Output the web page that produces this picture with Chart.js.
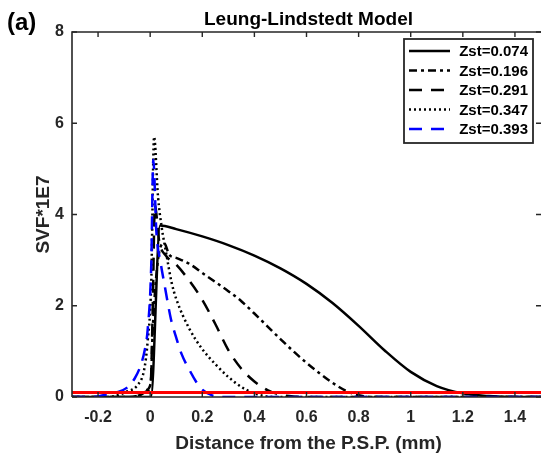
<!DOCTYPE html>
<html>
<head>
<meta charset="utf-8">
<script src="https://cdn.jsdelivr.net/npm/chart.js@4.4.1/dist/chart.umd.min.js"></script>
<style>
  html, body { margin: 0; padding: 0; background: #fff; overflow: hidden; }
  #wrap { width: 541px; height: 457px; position: relative; }
</style>
</head>
<body>
<div id="wrap"><canvas id="chart"></canvas></div>
<script>
const xTicks = [-0.2, 0, 0.2, 0.4, 0.6, 0.8, 1, 1.2, 1.4];
const yTicks = [0, 2, 4, 6, 8];
const seriesLabels = ['Zst=0.074', 'Zst=0.196', 'Zst=0.291', 'Zst=0.347', 'Zst=0.393'];

// Zst=0.074 (solid)
const x074 = [-0.3, 0.003, 0.038, 0.1, 0.2, 0.3, 0.4, 0.5, 0.6, 0.7, 0.8, 0.9, 1.0, 1.1, 1.2, 1.3, 1.4, 1.5];
const y074 = [0, 0, 3.76, 3.68, 3.52, 3.33, 3.1, 2.82, 2.48, 2.06, 1.56, 1.02, 0.55, 0.24, 0.08, 0.02, 0, 0];
// Zst=0.196 (dash-dot)
const x196 = [-0.3, -0.08, -0.04, -0.015, 0.002, 0.01, 0.03, 0.054, 0.073, 0.1, 0.15, 0.2, 0.25, 0.3, 0.35, 0.4, 0.45, 0.5, 0.55, 0.6, 0.65, 0.7, 0.75, 0.8, 0.85, 1.5];
const y196 = [0, 0, 0.05, 0.15, 0.3, 1.5, 3.0, 3.37, 3.12, 3.05, 2.92, 2.72, 2.52, 2.32, 2.1, 1.83, 1.55, 1.27, 1.0, 0.75, 0.52, 0.31, 0.14, 0.04, 0, 0];
// Zst=0.291 (dashed)
const x291 = [-0.3, -0.08, -0.04, -0.015, 0.002, 0.01, 0.018, 0.035, 0.06, 0.1, 0.15, 0.2, 0.25, 0.3, 0.35, 0.4, 0.45, 0.5, 0.55, 0.6, 1.5];
const y291 = [0, 0, 0.04, 0.12, 0.3, 2.0, 4.2, 3.4, 3.1, 2.9, 2.55, 2.13, 1.6, 1.03, 0.62, 0.34, 0.15, 0.05, 0.01, 0, 0];
// Zst=0.347 (dotted)
const x347 = [-0.3, -0.16, -0.12, -0.09, -0.05, -0.023, -0.01, 0.004, 0.015, 0.03, 0.044, 0.06, 0.083, 0.1, 0.15, 0.2, 0.25, 0.3, 0.35, 0.4, 0.45, 0.5, 1.5];
const y347 = [0, 0, 0.05, 0.12, 0.25, 0.6, 1.2, 2.49, 5.7, 4.4, 3.73, 3.2, 2.49, 2.15, 1.5, 1.05, 0.72, 0.44, 0.22, 0.08, 0.01, 0, 0];
// Zst=0.393 (blue dashed)
const x393 = [-0.3, -0.22, -0.18, -0.13, -0.09, -0.06, -0.036, -0.02, -0.01, 0.004, 0.012, 0.024, 0.04, 0.057, 0.08, 0.1, 0.12, 0.15, 0.177, 0.2, 0.24, 0.28, 1.5];
const y393 = [0, 0, 0.04, 0.1, 0.2, 0.4, 0.7, 1.05, 1.45, 2.86, 5.2, 3.6, 2.95, 2.4, 1.7, 1.3, 0.95, 0.6, 0.33, 0.16, 0.03, 0, 0];
// red threshold line
const limitX = [-0.3, 1.5];
const limitY = [0.1, 0.1];

const axisColor = '#262626';
const seriesColors = ['#000000', '#000000', '#000000', '#000000', '#0000ff'];
const seriesDash = [[], [8, 4, 3, 4], [13, 9], [2, 3], [13, 9]];

function pts(xs, ys) {
    return xs.map((v, i) => ({ x: v, y: ys[i] }));
}

const seriesData = [pts(x074, y074), pts(x196, y196), pts(x291, y291), pts(x347, y347), pts(x393, y393)];

function lineSet(i) {
    return {
        label: seriesLabels[i],
        data: seriesData[i],
        borderColor: seriesColors[i],
        borderWidth: 2.5,
        borderDash: seriesDash[i],
        pointRadius: 0,
        cubicInterpolationMode: 'monotone',
        fill: false
    };
}

// first dataset is painted last in Chart.js, so red goes first
const datasets = [{
    label: 'limit',
    data: pts(limitX, limitY),
    borderColor: '#ff0000',
    borderWidth: 3,
    pointRadius: 0
}];
for (let i = seriesLabels.length - 1; i >= 0; i--) {
    datasets.push(lineSet(i));
}

const framePlugin = {
    id: 'frame',
    afterDraw(chart) {
        const { ctx, chartArea: a, scales: { x, y } } = chart;
        ctx.save();
        ctx.strokeStyle = axisColor;
        ctx.lineWidth = 1.6;
        ctx.setLineDash([]);
        ctx.beginPath();
        ctx.moveTo(a.left, a.bottom);
        ctx.lineTo(a.left, a.top);
        ctx.lineTo(a.right + 2, a.top);
        ctx.moveTo(a.left, a.bottom);
        ctx.lineTo(a.right + 2, a.bottom);
        ctx.stroke();

        ctx.lineWidth = 1.4;
        ctx.beginPath();
        xTicks.forEach(v => {
            const px = x.getPixelForValue(v);
            ctx.moveTo(px, a.bottom);
            ctx.lineTo(px, a.bottom - 5);
            ctx.moveTo(px, a.top);
            ctx.lineTo(px, a.top + 5);
        });
        yTicks.forEach(v => {
            const py = y.getPixelForValue(v);
            ctx.moveTo(a.left, py);
            ctx.lineTo(a.left + 5, py);
            ctx.moveTo(a.right, py);
            ctx.lineTo(a.right - 5, py);
        });
        ctx.stroke();

        // texts
        const cx = (a.left + a.right) / 2 + 2;
        ctx.fillStyle = '#000';
        ctx.font = 'bold 19px "Liberation Sans", Arial, sans-serif';
        ctx.textAlign = 'center';
        ctx.textBaseline = 'alphabetic';
        ctx.fillText('Leung-Lindstedt Model', cx, 25);

        ctx.font = 'bold 24px "Liberation Sans", Arial, sans-serif';
        ctx.textAlign = 'left';
        ctx.fillText('(a)', 7, 30);

        ctx.fillStyle = axisColor;
        ctx.font = 'bold 19px "Liberation Sans", Arial, sans-serif';
        ctx.textAlign = 'center';
        ctx.fillText('Distance from the P.S.P. (mm)', cx, 449);

        ctx.save();
        ctx.translate(49, (a.top + a.bottom) / 2);
        ctx.rotate(-Math.PI / 2);
        ctx.fillText('SVF*1E7', 0, 0);
        ctx.restore();

        // legend
        const bx = 404, by = 39, bw = 129, bh = 104;
        ctx.fillStyle = '#fff';
        ctx.fillRect(bx, by, bw, bh);
        ctx.strokeStyle = axisColor;
        ctx.lineWidth = 1.8;
        ctx.strokeRect(bx, by, bw, bh);
        ctx.font = 'bold 15px "Liberation Sans", Arial, sans-serif';
        ctx.textAlign = 'right';
        ctx.textBaseline = 'middle';
        seriesLabels.forEach((lab, i) => {
            const ry = by + 12 + i * 19.5;
            ctx.strokeStyle = seriesColors[i];
            ctx.lineWidth = 2.5;
            ctx.setLineDash(seriesDash[i]);
            ctx.beginPath();
            ctx.moveTo(bx + 5, ry);
            ctx.lineTo(bx + 46, ry);
            ctx.stroke();
            ctx.setLineDash([]);
            ctx.fillStyle = '#000';
            ctx.fillText(lab, bx + bw - 5, ry + 1);
        });
        ctx.restore();
    }
};

new Chart(document.getElementById('chart'), {
    type: 'line',
    data: { datasets },
    options: {
        responsive: true,
        maintainAspectRatio: false,
        animation: false,
        layout: { padding: { top: 32, right: 0, left: 0, bottom: 0 } },
        plugins: {
            legend: { display: false },
            title: { display: false },
            tooltip: { enabled: false }
        },
        scales: {
            x: {
                type: 'linear',
                min: -0.3,
                max: 1.5,
                grid: { display: false, drawTicks: false },
                border: { display: false },
                afterBuildTicks: axis => { axis.ticks = xTicks.map(v => ({ value: v })); },
                afterFit: axis => { axis.height = 60; },
                ticks: {
                    autoSkip: false,
                    maxRotation: 0,
                    padding: 11,
                    color: axisColor,
                    font: { family: '"Liberation Sans", Arial, sans-serif', size: 16, weight: 'bold' },
                    callback: v => String(v)
                }
            },
            y: {
                min: 0,
                max: 8,
                grid: { display: false, drawTicks: false },
                border: { display: false },
                afterBuildTicks: axis => { axis.ticks = yTicks.map(v => ({ value: v })); },
                afterFit: axis => { axis.width = 72; },
                ticks: {
                    padding: 8,
                    color: axisColor,
                    font: { family: '"Liberation Sans", Arial, sans-serif', size: 16, weight: 'bold' },
                    callback: v => String(v)
                }
            }
        }
    },
    plugins: [framePlugin]
});
</script>
</body>
</html>
